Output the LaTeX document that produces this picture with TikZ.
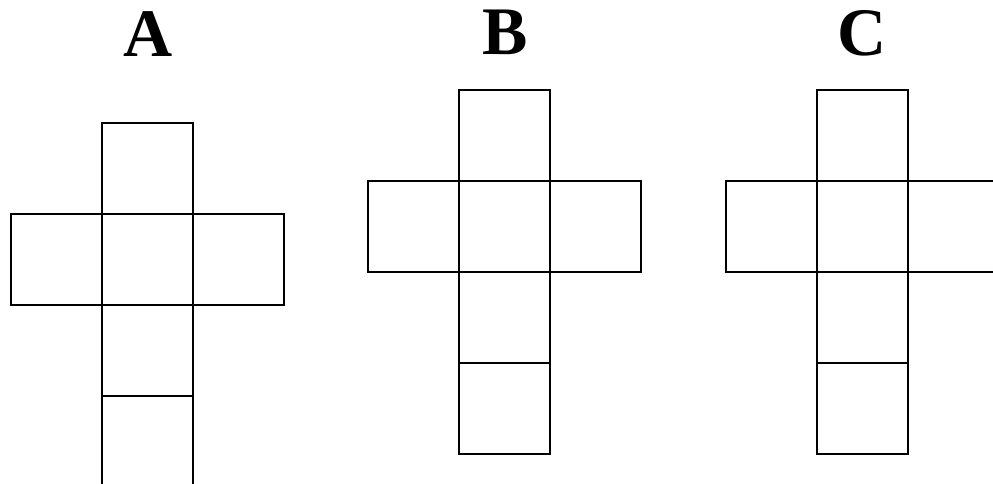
\documentclass[tikz,border=0pt]{standalone}
\usepackage{fontspec}
\setmainfont{Liberation Serif}

\begin{document}
\begin{tikzpicture}[x=1pt, y=-1pt, line width=1.6pt,
  netlabel/.style={anchor=base, font=\bfseries\fontsize{68}{68}\selectfont}]

% Parameters
\def\s{91}   % side of one face

% Frame of the picture
\useasboundingbox (0,0) rectangle (993,484);
\clip (0,0) rectangle (993,484);

% Labels
\node[netlabel] (labA) at (148,56.5) {A};
\node[netlabel] (labB) at (505,55) {B};
\node[netlabel] (labC) at (862,56) {C};

% Net A: column at x = 102, top face at y = 123
\def\ax{102}
\def\ay{123}
\foreach \i/\j in {0/0, -1/1, 0/1, 1/1, 0/2, 0/3}
  \draw ({\ax+\i*\s},{\ay+\j*\s}) rectangle ++(\s,\s);

% Net B: column at x = 459, top face at y = 90
\def\bx{459}
\def\by{90}
\foreach \i/\j in {0/0, -1/1, 0/1, 1/1, 0/2, 0/3}
  \draw ({\bx+\i*\s},{\by+\j*\s}) rectangle ++(\s,\s);

% Net C: column at x = 817, right face runs off the edge
\def\cx{817}
\def\cy{90}
\foreach \i/\j in {0/0, -1/1, 0/1, 1/1, 0/2, 0/3}
  \draw ({\cx+\i*\s},{\cy+\j*\s}) rectangle ++(\s,\s);

\end{tikzpicture}
\end{document}
